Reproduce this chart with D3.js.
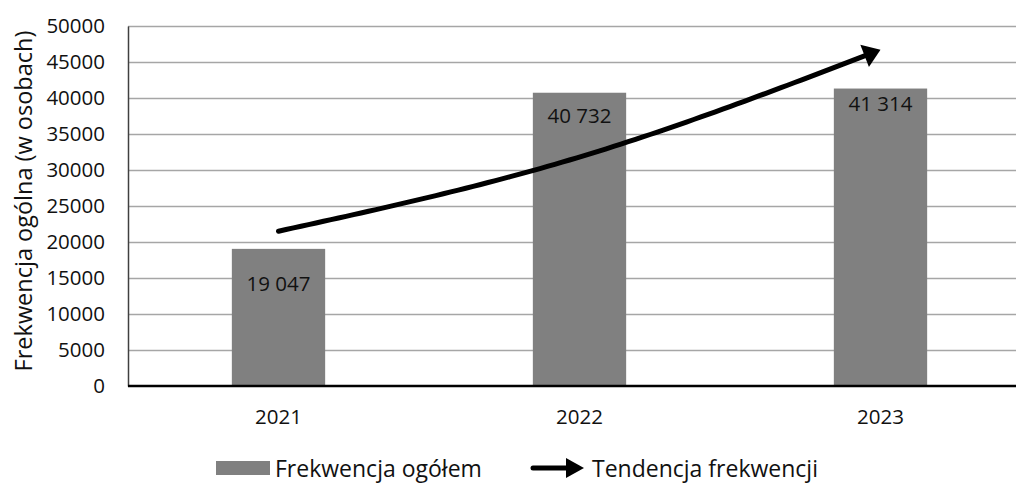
<!DOCTYPE html>
<html>
<head>
<meta charset="utf-8">
<script src="https://cdn.jsdelivr.net/npm/d3@7"></script>
<style>
  html, body { margin: 0; padding: 0; background: #fff; }
  svg { display: block; }
  text { font-family: "Open Sans", sans-serif; fill: #111; }
</style>
</head>
<body>
<svg id="chart" width="1016" height="485"></svg>
<script>
// ---- data ----
const categories = ["2021", "2022", "2023"];
const attendance = [19047, 40732, 41314];
const attendanceLabels = ["19 047", "40 732", "41 314"];
const trendValues = [21500, 31800, 46700];
const yTicks = [0, 5000, 10000, 15000, 20000, 25000, 30000, 35000, 40000, 45000, 50000];
const seriesNames = ["Frekwencja ogółem", "Tendencja frekwencji"];
const yTitle = "Frekwencja ogólna (w osobach)";

// ---- layout ----
const W = 1016, H = 485;
const svg = d3.select("#chart");
const pLeft = 128, pRight = 1031, pTop = 26, pBottom = 386;
const fs = 20.5, fsLeg = 23, fsTitle = 23.5;

const x = d3.scaleBand().domain(categories).range([pLeft, pRight])
  .paddingInner(0.69).paddingOuter(0.345);
const y = d3.scaleLinear().domain([0, 50000]).range([pBottom, pTop]);
const cx = c => x(c) + x.bandwidth() / 2;

// gridlines
svg.append("g").selectAll("line").data(yTicks.filter(d => d > 0)).join("line")
  .attr("x1", pLeft).attr("x2", W)
  .attr("y1", d => Math.round(y(d)) + 0.5).attr("y2", d => Math.round(y(d)) + 0.5)
  .attr("stroke", "#a6a6a6").attr("stroke-width", 1.5);

// y axis
const yAxis = d3.axisLeft(y).tickValues(yTicks).tickSize(0).tickPadding(23)
  .tickFormat(d => String(d));
const gy = svg.append("g").attr("transform", `translate(${pLeft},0)`).call(yAxis);
gy.select(".domain").attr("stroke", "#404040").attr("stroke-width", 1.5);
gy.selectAll("text").style("font-size", fs + "px").attr("fill", "#111")
  .style("font-family", '"Open Sans", sans-serif');

// bars
svg.append("g").selectAll("rect").data(attendance).join("rect")
  .attr("x", (d, i) => x(categories[i]))
  .attr("y", d => y(d))
  .attr("width", x.bandwidth())
  .attr("height", d => y(0) - y(d))
  .attr("fill", "#808080");

// x axis
const xAxis = d3.axisBottom(x).tickSize(0).tickPadding(23);
const gx = svg.append("g").attr("transform", `translate(0,${pBottom})`).call(xAxis);
gx.select(".domain").attr("stroke", "#000").attr("stroke-width", 2.5)
  .attr("d", `M${pLeft},0H${W}`);
gx.selectAll("text").style("font-size", fs + "px").attr("fill", "#111")
  .style("font-family", '"Open Sans", sans-serif');

// bar labels (inside top, offsets as in reference)
const labelDrop = [34, 22, 14];
svg.append("g").selectAll("text").data(attendance).join("text")
  .attr("x", (d, i) => cx(categories[i]))
  .attr("y", (d, i) => y(d) + labelDrop[i])
  .attr("text-anchor", "middle").attr("dominant-baseline", "central")
  .style("font-size", fs + "px")
  .text((d, i) => attendanceLabels[i]);

// trend arrow
const trendLine = d3.line().x((d, i) => cx(categories[i])).y(d => y(d)).curve(d3.curveNatural);
const full = svg.append("path").attr("d", trendLine(trendValues)).attr("fill", "none").attr("stroke", "none");
const node = full.node();
const L = node.getTotalLength();
const headLen = 17, headHalf = 12;
const tip = node.getPointAtLength(L);
const base = node.getPointAtLength(L - headLen);
const n = 80;
const pts = d3.range(n + 1).map(i => node.getPointAtLength((L - headLen + 2) * i / n)).map(p => [p.x, p.y]);
full.remove();
svg.append("path").attr("d", d3.line()(pts)).attr("fill", "none")
  .attr("stroke", "#000").attr("stroke-width", 5).attr("stroke-linecap", "round");
{
  const dx = tip.x - base.x, dy = tip.y - base.y, len = Math.hypot(dx, dy);
  const ux = dx / len, uy = dy / len;
  svg.append("path")
    .attr("d", `M${tip.x},${tip.y}L${base.x - uy * headHalf},${base.y + ux * headHalf}L${base.x + uy * headHalf},${base.y - ux * headHalf}Z`)
    .attr("fill", "#000");
}

// y title
svg.append("text")
  .attr("transform", `translate(23,201) rotate(-90)`)
  .attr("text-anchor", "middle").attr("dominant-baseline", "central")
  .style("font-size", fsTitle + "px").text(yTitle);

// legend
const lg = svg.append("g");
const ly = 468;
lg.append("rect").attr("x", 216).attr("y", ly - 7).attr("width", 54).attr("height", 14).attr("fill", "#808080");
lg.append("text").attr("x", 275).attr("y", ly).attr("dominant-baseline", "central")
  .style("font-size", fsLeg + "px").text(seriesNames[0]);
lg.append("line").attr("x1", 533).attr("x2", 568).attr("y1", ly).attr("y2", ly)
  .attr("stroke", "#000").attr("stroke-width", 5).attr("stroke-linecap", "round");
lg.append("path").attr("d", `M566,${ly - 10}L584,${ly}L566,${ly + 10}Z`).attr("fill", "#000");
lg.append("text").attr("x", 592).attr("y", ly).attr("dominant-baseline", "central")
  .style("font-size", fsLeg + "px").text(seriesNames[1]);
</script>
</body>
</html>
